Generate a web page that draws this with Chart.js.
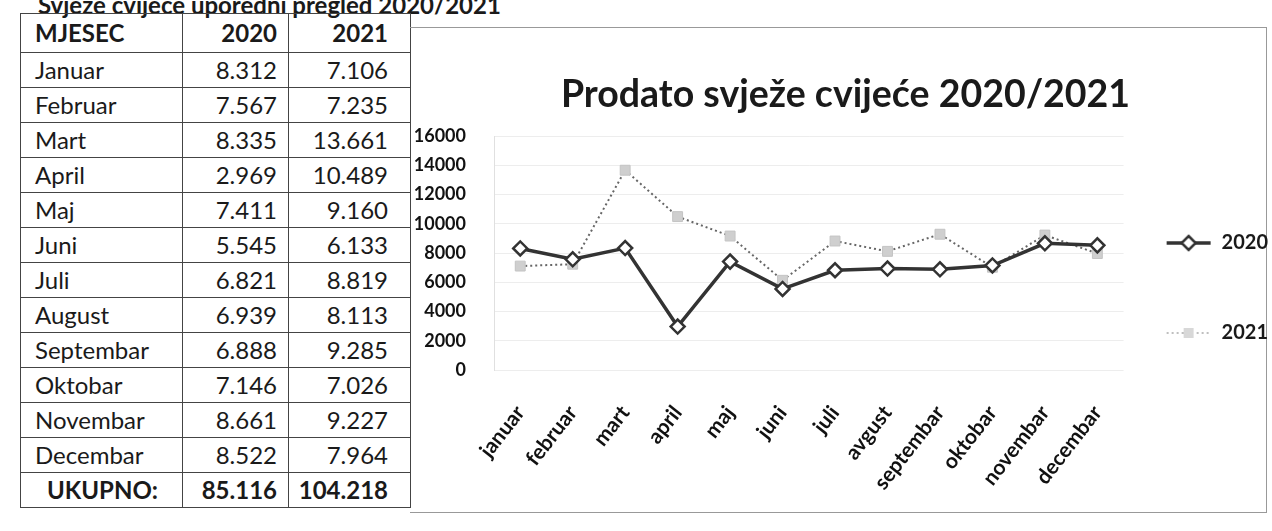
<!DOCTYPE html>
<html>
<head>
<meta charset="utf-8">
<script src="https://cdn.jsdelivr.net/npm/chart.js@4.4.1/dist/chart.umd.min.js"></script>
<style>
  html, body { margin: 0; padding: 0; background: #fff; }
  body { width: 1272px; height: 531px; position: relative; overflow: hidden; font-family: Lato, "Open Sans", sans-serif; color: #1a1a1a; }
  #pageTitle { position: absolute; left: 38px; top: -7px; font-size: 24px; font-weight: 700; line-height: 24px; white-space: nowrap; }
  #salesTable { position: absolute; left: 20px; top: 13px; width: 390px; table-layout: fixed; border-collapse: collapse; font-size: 24px; }
  #salesTable td { border: 1.5px solid #444; height: 34px; padding: 0; line-height: 1; overflow: hidden; white-space: nowrap; }
  #salesTable tr.head td { height: 38px; font-weight: 700; }
  #salesTable tr.total td { font-weight: 700; }
  #salesTable td.m { padding-left: 14px; text-align: left; }
  #salesTable td.a { padding-right: 11px; text-align: right; }
  #salesTable td.b { padding-right: 22px; text-align: right; }
  #chartBox { position: absolute; left: 410px; top: 27px; width: 856px; height: 484px; border: 1px solid #999; border-left: none; }
  #chartWrap { position: absolute; left: 410px; top: 27px; width: 868px; height: 484px; }
</style>
</head>
<body>
<div id="pageTitle">Svježe cvijeće uporedni pregled 2020/2021</div>
<table id="salesTable">
  <colgroup><col style="width:162px"><col style="width:106px"><col style="width:122px"></colgroup>
  <tbody id="salesBody"></tbody>
</table>
<div id="chartBox"></div>
<div id="chartWrap"><canvas id="salesChart"></canvas></div>

<script>
// --------------------------------------------------
//  DATA
// --------------------------------------------------
const tableMonths = ['Januar','Februar','Mart','April','Maj','Juni','Juli','August','Septembar','Oktobar','Novembar','Decembar'];
const chartMonths = ['januar','februar','mart','april','maj','juni','juli','avgust','septembar','oktobar','novembar','decembar'];
const sales2020 = [8312, 7567, 8335, 2969, 7411, 5545, 6821, 6939, 6888, 7146, 8661, 8522];
const sales2021 = [7106, 7235, 13661, 10489, 9160, 6133, 8819, 8113, 9285, 7026, 9227, 7964];
const seriesNames = ['2020', '2021'];
const yTicks = [0, 2000, 4000, 6000, 8000, 10000, 12000, 14000, 16000];

// --------------------------------------------------
//  TABLE
// --------------------------------------------------
function formatNum(v) {
    return String(v).replace(/\B(?=(\d{3})+(?!\d))/g, '.');
}

function buildTable() {
    const sum = arr => arr.reduce((s, v) => s + v, 0);
    let html = '<tr class="head"><td class="m">MJESEC</td><td class="a">' + seriesNames[0] + '</td><td class="b">' + seriesNames[1] + '</td></tr>';
    tableMonths.forEach((m, i) => {
        html += '<tr><td class="m">' + m + '</td><td class="a">' + formatNum(sales2020[i]) + '</td><td class="b">' + formatNum(sales2021[i]) + '</td></tr>';
    });
    html += '<tr class="total"><td class="m" style="padding-left:26px">UKUPNO:</td><td class="a">' + formatNum(sum(sales2020)) + '</td><td class="b">' + formatNum(sum(sales2021)) + '</td></tr>';
    document.getElementById('salesBody').innerHTML = html;
}
buildTable();

// --------------------------------------------------
//  LEGEND ICONS (line + marker)
// --------------------------------------------------
function legendIcon(kind) {
    const c = document.createElement('canvas');
    c.width = 46; c.height = 18;
    const g = c.getContext('2d');
    if (kind === 0) {
        g.strokeStyle = '#333'; g.lineWidth = 3.5;
        g.beginPath(); g.moveTo(1, 9); g.lineTo(45, 9); g.stroke();
        g.fillStyle = '#fff'; g.lineWidth = 2.5;
        g.beginPath(); g.moveTo(23, 2); g.lineTo(30, 9); g.lineTo(23, 16); g.lineTo(16, 9); g.closePath();
        g.fill(); g.stroke();
    } else {
        g.strokeStyle = '#aaa'; g.lineWidth = 1.5; g.setLineDash([2, 3]);
        g.beginPath(); g.moveTo(1, 9); g.lineTo(45, 9); g.stroke();
        g.setLineDash([]);
        g.fillStyle = '#d8d8d8'; g.fillRect(18, 4, 10, 10);
    }
    return c;
}

// --------------------------------------------------
//  CHART
// --------------------------------------------------
const ctx = document.getElementById('salesChart').getContext('2d');

new Chart(ctx, {
    type: 'line',
    data: {
        labels: chartMonths,
        datasets: [{
            label: seriesNames[0],
            data: sales2020,
            borderColor: '#333',
            borderWidth: 3.5,
            tension: 0,
            pointStyle: 'rectRot',
            pointRadius: 7,
            pointBackgroundColor: '#fff',
            pointBorderColor: '#333',
            pointBorderWidth: 2.5
        }, {
            label: seriesNames[1],
            data: sales2021,
            borderColor: '#666',
            borderWidth: 2,
            borderDash: [2, 3],
            tension: 0,
            pointStyle: 'rect',
            pointRadius: 7,
            pointBackgroundColor: '#cfcfcf',
            pointBorderColor: '#c4c4c4',
            pointBorderWidth: 1
        }]
    },
    options: {
        responsive: true,
        maintainAspectRatio: false,
        animation: false,
        layout: { padding: { left: 3, right: 0, top: 0, bottom: 0 } },
        plugins: {
            title: {
                display: true,
                text: 'Prodato svježe cvijeće 2020/2021',
                color: '#1a1a1a',
                font: { family: 'Lato', size: 37.5, weight: 'bold' },
                padding: { top: 45, bottom: 19 }
            },
            legend: {
                position: 'right',
                align: 'start',
                // empty title only pushes the items down to where the original has them
                title: { display: true, text: ' ', font: { family: 'Lato', size: 20 }, padding: { top: 140, bottom: 0 } },
                labels: {
                    usePointStyle: true,
                    pointStyleWidth: 46,
                    padding: 42,
                    color: '#1a1a1a',
                    font: { family: 'Lato', size: 20, weight: 'bold' },
                    generateLabels: function(chart) {
                        return chart.data.datasets.map((ds, i) => ({
                            // extra blank line under the first entry = wider gap between the two entries
                            text: i === 0 ? [ds.label, ''] : ds.label,
                            fillStyle: '#fff',
                            strokeStyle: '#333',
                            lineWidth: 0,
                            hidden: false,
                            datasetIndex: i,
                            pointStyle: legendIcon(i),
                            fontColor: '#1a1a1a'
                        }));
                    }
                }
            },
            tooltip: { enabled: false }
        },
        scales: {
            y: {
                min: 0,
                max: 16000,
                afterBuildTicks: axis => { axis.ticks = yTicks.map(v => ({ value: v })); },
                afterFit: axis => { axis.width = 81; },
                ticks: {
                    color: '#111',
                    padding: 28,
                    callback: v => String(v),
                    font: { family: 'Lato', size: 18, weight: 'bold' }
                },
                grid: { color: 'rgba(0,0,0,0.07)', drawTicks: false },
                border: { color: 'rgba(0,0,0,0.12)' }
            },
            x: {
                offset: true,
                afterFit: axis => { axis.paddingLeft = 0; axis.paddingRight = 0; axis.height = 141; },
                ticks: {
                    color: '#111',
                    minRotation: 52,
                    maxRotation: 52,
                    padding: 23,
                    font: { family: 'Lato', size: 21, weight: 'bold' }
                },
                grid: { display: false },
                border: { display: false }
            }
        }
    }
});
</script>
</body>
</html>
